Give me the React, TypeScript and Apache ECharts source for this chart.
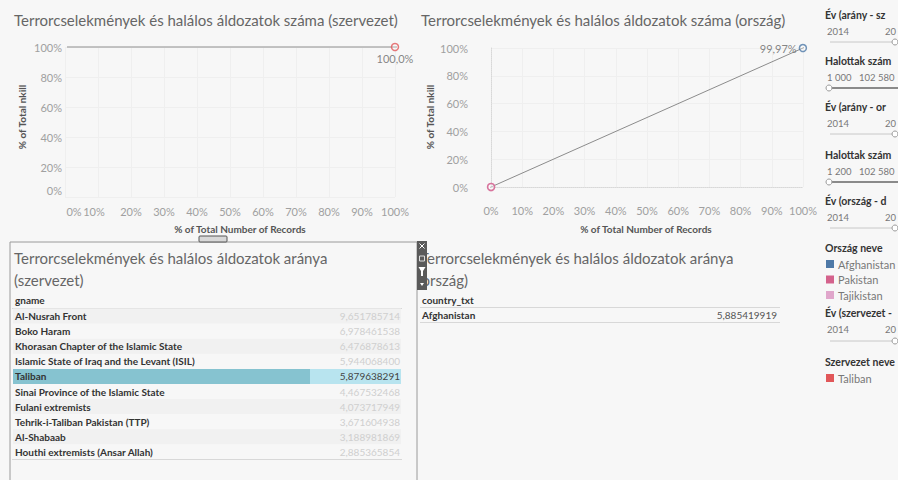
import React, { useEffect, useRef } from 'react';
import * as echarts from 'echarts';

// ---- data ----
const orgNames = ['Taliban'];
const orgRecordsShare = [1.0];
const orgKillShare = [1.0];
const orgColors = ['#e15759'];

const countryNames = ['Afghanistan', 'Pakistan', 'Tajikistan'];
const countryRecordsShare = [0.9997, 0.0003, 0.0];
const countryKillShare = [0.9997, 0.0003, 0.0];
const countryColors = ['#4e79a7', '#d4628c', '#e0a6cb'];

const pctTickStep = 0.1;
const pctTickStepY = 0.2;

const gnames = [
  'Al-Nusrah Front',
  'Boko Haram',
  'Khorasan Chapter of the Islamic State',
  'Islamic State of Iraq and the Levant (ISIL)',
  'Taliban',
  'Sinai Province of the Islamic State',
  'Fulani extremists',
  'Tehrik-i-Taliban Pakistan (TTP)',
  'Al-Shabaab',
  'Houthi extremists (Ansar Allah)',
];
const gnameRatios = [
  9.651785714, 6.978461538, 6.476878613, 5.9440684, 5.879638291,
  4.467532468, 4.073717949, 3.671604938, 3.188981869, 2.885365854,
];
const selectedOrg = 'Taliban';

const countryTxt = ['Afghanistan'];
const countryRatios = [5.885419919];

const filterTitles = [
  'Év (arány - szervezet)',
  'Halottak száma (szervezet)',
  'Év (arány - ország)',
  'Halottak száma (ország)',
  'Év (ország - diagram)',
];
const filterLow = ['2014', '1 000', '2014', '1 200', '2014'];
const filterHigh = ['2017', '102 580', '2017', '102 580', '2017'];
const countryLegendTitle = 'Ország neve';
const orgFilterTitle = 'Év (szervezet - diagram)';
const orgFilterLow = '2014';
const orgFilterHigh = '2017';
const orgLegendTitle = 'Szervezet neve';

const FONT = 'Lato, "Open Sans", sans-serif';

function fmtPct(v: number, d: number) {
  return (v * 100).toFixed(d).replace('.', ',') + '%';
}
function fmtNum(v: number) {
  return v.toFixed(9).replace('.', ',');
}
function trend(xs: number[], ys: number[], x0: number, x1: number) {
  const n = xs.length;
  const mx = xs.reduce((a, b) => a + b, 0) / n;
  const my = ys.reduce((a, b) => a + b, 0) / n;
  let sxx = 0, sxy = 0;
  for (let i = 0; i < n; i++) {
    sxx += (xs[i] - mx) * (xs[i] - mx);
    sxy += (xs[i] - mx) * (ys[i] - my);
  }
  const slope = sxx > 0 ? sxy / sxx : 0;
  return [[x0, my + slope * (x0 - mx)], [x1, my + slope * (x1 - mx)]];
}

function txt(text: string, x: number, y: number, o: any = {}) {
  return {
    type: 'text',
    x,
    y,
    rotation: o.rotation || 0,
    silent: true,
    z: o.z || 10,
    style: {
      text,
      fill: o.fill || '#333',
      fontSize: o.size || 10,
      fontFamily: FONT,
      fontWeight: o.weight || 'normal',
      textAlign: o.align || 'left',
      textVerticalAlign: 'middle',
      ...(o.width ? { width: o.width, overflow: 'truncate', ellipsis: '' } : {}),
    },
  };
}

function buildGraphics() {
  const g: any[] = [];
  // chart titles
  g.push(txt('Terrorcselekmények és halálos áldozatok száma (szervezet)', 14, 20, { size: 15, fill: '#666' }));
  g.push(txt('Terrorcselekmények és halálos áldozatok száma (ország)', 421, 20, { size: 15, fill: '#666' }));
  // axis titles
  g.push(txt('% of Total nkill', 22, 117, { rotation: Math.PI / 2, align: 'center', weight: 'bold', fill: '#555', size: 10 }));
  g.push(txt('% of Total nkill', 430, 117, { rotation: Math.PI / 2, align: 'center', weight: 'bold', fill: '#555', size: 10 }));
  g.push(txt('% of Total Number of Records', 240, 229, { align: 'center', weight: 'bold', fill: '#555', size: 10 }));
  g.push(txt('% of Total Number of Records', 646, 229, { align: 'center', weight: 'bold', fill: '#555', size: 10 }));

  // left table box
  g.push({ type: 'rect', silent: true, z: 2, shape: { x: 10, y: 242, width: 407, height: 260 }, style: { fill: 'none', stroke: '#9a9a9a', lineWidth: 1 } });
  g.push({ type: 'rect', silent: true, z: 12, shape: { x: 199, y: 236, width: 28, height: 6, r: 1 }, style: { fill: '#d8d8d8', stroke: '#555', lineWidth: 1 } });
  g.push(txt('Terrorcselekmények és halálos áldozatok aránya', 14, 258, { size: 15, fill: '#666' }));
  g.push(txt('(szervezet)', 14, 280, { size: 15, fill: '#666' }));
  g.push(txt('gname', 15, 300, { size: 10, weight: 'bold', fill: '#333' }));
  g.push({ type: 'line', silent: true, shape: { x1: 12, y1: 308.5, x2: 402, y2: 308.5 }, style: { stroke: '#d8d8d8', lineWidth: 1 } });
  const rowH = 15.1;
  gnames.forEach((name, i) => {
    const cy = 316 + i * rowH;
    const sel = name === selectedOrg;
    if (sel) {
      g.push({ type: 'rect', silent: true, z: 3, shape: { x: 13, y: cy - 7.5, width: 297, height: 15 }, style: { fill: '#86c3d0' } });
      g.push({ type: 'rect', silent: true, z: 3, shape: { x: 310, y: cy - 7.5, width: 91, height: 15 }, style: { fill: '#b8e4ef' } });
    } else if (i % 2 === 0) {
      g.push({ type: 'rect', silent: true, z: 3, shape: { x: 13, y: cy - 7.5, width: 388, height: 15 }, style: { fill: '#f1f1f1' } });
    }
    g.push(txt(name, 15, cy, { size: 10, weight: 'bold', fill: '#333' }));
    g.push(txt(fmtNum(gnameRatios[i]), 400, cy, { size: 10, fill: sel ? '#444' : '#cfcfcf', align: 'right' }));
  });
  g.push({ type: 'line', silent: true, shape: { x1: 12, y1: 459.5, x2: 402, y2: 459.5 }, style: { stroke: '#d8d8d8', lineWidth: 1 } });

  // right table
  g.push(txt('Terrorcselekmények és halálos áldozatok aránya', 420, 258, { size: 15, fill: '#666' }));
  g.push(txt('(ország)', 418, 280, { size: 15, fill: '#666' }));
  g.push(txt('country_txt', 422, 300, { size: 10, weight: 'bold', fill: '#333' }));
  g.push({ type: 'line', silent: true, shape: { x1: 420, y1: 307.5, x2: 780, y2: 307.5 }, style: { stroke: '#d8d8d8', lineWidth: 1 } });
  countryTxt.forEach((c, i) => {
    const cy = 315 + i * rowH;
    g.push(txt(c, 422, cy, { size: 10, weight: 'bold', fill: '#333' }));
    g.push(txt(fmtNum(countryRatios[i]), 777, cy, { size: 10, fill: '#555', align: 'right' }));
  });
  g.push({ type: 'line', silent: true, shape: { x1: 420, y1: 322.5 + (countryTxt.length - 1) * rowH, x2: 780, y2: 322.5 + (countryTxt.length - 1) * rowH }, style: { stroke: '#d8d8d8', lineWidth: 1 } });

  // toolbar (drawn over the right table title, as in the dashboard)
  g.push({ type: 'rect', silent: true, z: 20, shape: { x: 417, y: 241, width: 10, height: 49 }, style: { fill: '#5a5a5a' } });
  g.push({ type: 'line', silent: true, z: 21, shape: { x1: 419.5, y1: 243.5, x2: 424.5, y2: 248.5 }, style: { stroke: '#fff', lineWidth: 1 } });
  g.push({ type: 'line', silent: true, z: 21, shape: { x1: 424.5, y1: 243.5, x2: 419.5, y2: 248.5 }, style: { stroke: '#fff', lineWidth: 1 } });
  g.push({ type: 'rect', silent: true, z: 21, shape: { x: 419.5, y: 256, width: 5, height: 5 }, style: { fill: 'none', stroke: '#ddd', lineWidth: 1 } });
  g.push({ type: 'polygon', silent: true, z: 21, shape: { points: [[418.5, 267], [425.5, 267], [423, 271], [423, 276], [421, 276], [421, 271]] }, style: { fill: '#fff' } });
  g.push({ type: 'polygon', silent: true, z: 21, shape: { points: [[420, 283], [424, 283], [422, 286]] }, style: { fill: '#fff' } });

  // side panel filters
  const SX = 825;
  const W = 898 - SX;
  const slider = (y: number, knobX: number, rangeLeft: boolean) => {
    g.push({ type: 'line', silent: true, shape: { x1: 830, y1: y, x2: 898, y2: y }, style: { stroke: '#c8c8c8', lineWidth: 1 } });
    if (rangeLeft) {
      g.push({ type: 'line', silent: true, shape: { x1: knobX, y1: y, x2: 898, y2: y }, style: { stroke: '#8a8a8a', lineWidth: 2 } });
    }
    g.push({ type: 'circle', silent: true, z: 11, shape: { cx: knobX, cy: y, r: 3 }, style: { fill: '#fff', stroke: '#999', lineWidth: 1 } });
  };
  const ys = [15, 61, 107, 155, 201];
  filterTitles.forEach((t, i) => {
    const y = ys[i];
    const isDeath = t.startsWith('Halottak');
    const hx = isDeath ? 859 : 885;
    g.push(txt(t, SX, y, { size: 10.5, weight: 'bold', fill: '#333', width: W }));
    g.push(txt(filterLow[i], 827, y + 16, { size: 9.5, fill: '#777' }));
    g.push(txt(filterHigh[i], hx, y + 16, { size: 9.5, fill: '#777', width: isDeath ? 898 - hx : 16 }));
    slider(y + 27, isDeath ? 829 : 895, isDeath);
  });
  g.push(txt(countryLegendTitle, SX, 248, { size: 10.5, weight: 'bold', fill: '#333', width: W }));
  countryNames.forEach((c, i) => {
    const y = 264 + i * 15.5;
    g.push({ type: 'rect', silent: true, shape: { x: 826, y: y - 4, width: 8, height: 8 }, style: { fill: countryColors[i] } });
    g.push(txt(c, 838, y, { size: 11, fill: '#777', width: 898 - 838 }));
  });
  g.push(txt(orgFilterTitle, SX, 313, { size: 10.5, weight: 'bold', fill: '#333', width: W }));
  g.push(txt(orgFilterLow, 827, 329, { size: 9.5, fill: '#777' }));
  g.push(txt(orgFilterHigh, 885, 329, { size: 9.5, fill: '#777', width: 16 }));
  slider(341, 895, false);
  g.push(txt(orgLegendTitle, SX, 362, { size: 10.5, weight: 'bold', fill: '#333', width: W }));
  orgNames.forEach((o, i) => {
    const y = 378 + i * 15.5;
    g.push({ type: 'rect', silent: true, shape: { x: 826, y: y - 4, width: 8, height: 8 }, style: { fill: orgColors[i] } });
    g.push(txt(o, 838, y, { size: 11, fill: '#777', width: 898 - 838 }));
  });
  return g;
}

function shiftLabel(text: string, key: string) {
  return '{' + key + '|' + text + '}';
}

export default function App() {
  const ref = useRef<HTMLDivElement>(null);
  useEffect(() => {
    document.body.style.margin = '0';
    const chart = echarts.init(ref.current!, null, { renderer: 'svg' });
    const labelBase = { color: '#a0a0a0', fontSize: 11, fontFamily: FONT };
    const pctFmtX = (v: number) => Math.round(v * 100) + '%';
    const leftXFmt = (v: number) => {
      const s = pctFmtX(v);
      if (Math.abs(v) < 1e-9) return shiftLabel(s, 'r');
      if (Math.abs(v - 0.1) < 1e-9) return shiftLabel(s, 'l');
      return shiftLabel(s, 'n');
    };
    const leftYFmt = (v: number) => {
      const s = pctFmtX(v);
      if (Math.abs(v) < 1e-9) return shiftLabel(s, 'u');
      return shiftLabel(s, 'n');
    };
    const rich = {
      n: { ...labelBase },
      r: { ...labelBase, padding: [0, 0, 0, 18] },
      l: { ...labelBase, padding: [0, 8, 0, 0] },
      u: { ...labelBase, padding: [0, 0, 14, 0] },
    };
    const splitLine = { show: true, lineStyle: { color: '#efefef', width: 1 } };

    const orgData = orgNames.map((n, i) => ({ name: n, value: [orgRecordsShare[i], orgKillShare[i]], itemStyle: { borderColor: orgColors[i] } }));
    const countryData = countryNames.map((n, i) => ({ name: n, value: [countryRecordsShare[i], countryKillShare[i]], itemStyle: { borderColor: countryColors[i], color: 'rgba(255,255,255,0.3)' } })).reverse();

    const option: any = {
      animation: false,
      backgroundColor: '#f7f7f7',
      textStyle: { fontFamily: FONT },
      grid: [
        { left: 65, top: 47, width: 330, height: 150 },
        { left: 491, top: 48, width: 312, height: 139 },
      ],
      xAxis: [
        {
          gridIndex: 0, type: 'value', min: 0, max: 1, interval: pctTickStep,
          axisLine: { show: false }, axisTick: { show: false }, splitLine,
          axisLabel: { formatter: leftXFmt, rich, margin: 9, showMinLabel: true, showMaxLabel: true, hideOverlap: false },
        },
        {
          gridIndex: 1, type: 'value', min: 0, max: 1, interval: pctTickStep,
          axisLine: { show: true, lineStyle: { color: '#d8d8d8', type: 'dotted' } }, axisTick: { show: false }, splitLine,
          axisLabel: { formatter: (v: number) => pctFmtX(v), ...labelBase, margin: 18 },
        },
      ],
      yAxis: [
        {
          gridIndex: 0, type: 'value', min: 0, max: 1, interval: pctTickStepY,
          axisLine: { show: false }, axisTick: { show: false }, splitLine,
          axisLabel: { formatter: leftYFmt, rich, margin: 3, showMinLabel: true },
        },
        {
          gridIndex: 1, type: 'value', min: 0, max: 1, interval: pctTickStepY,
          axisLine: { show: true, lineStyle: { color: '#d8d8d8', type: 'dotted' } }, axisTick: { show: false }, splitLine,
          axisLabel: { formatter: (v: number) => pctFmtX(v), ...labelBase, margin: 23 },
        },
      ],
      series: [
        {
          type: 'line', xAxisIndex: 0, yAxisIndex: 0, clip: false, silent: true, symbol: 'none',
          data: trend(orgRecordsShare, orgKillShare, 0.006, 1.06),
          lineStyle: { color: '#b0b0b0', width: 1.5 }, z: 2,
        },
        {
          type: 'scatter', xAxisIndex: 0, yAxisIndex: 0, clip: false, symbol: 'circle', symbolSize: 7,
          data: orgData,
          itemStyle: { color: 'rgba(255,255,255,0.3)', borderWidth: 1.5 },
          label: {
            show: true, position: 'bottom', distance: 2, color: '#666', fontSize: 11, fontFamily: FONT,
            formatter: (p: any) => fmtPct(p.value[1], 1),
          },
          z: 5,
        },
        {
          type: 'line', xAxisIndex: 1, yAxisIndex: 1, clip: false, silent: true, symbol: 'none',
          data: trend(countryRecordsShare, countryKillShare, -0.055, 1.055),
          lineStyle: { color: '#8c8c8c', width: 1 }, z: 2,
        },
        {
          type: 'scatter', xAxisIndex: 1, yAxisIndex: 1, clip: false, symbol: 'circle', symbolSize: 7,
          data: countryData,
          itemStyle: { borderWidth: 1.5 },
          label: {
            show: true, position: 'left', distance: 2, color: '#666', fontSize: 11, fontFamily: FONT,
            formatter: (p: any) => (p.value[1] > 0.5 ? fmtPct(p.value[1], 2) : ''),
          },
          z: 5,
        },
      ],
      graphic: buildGraphics(),
    };
    chart.setOption(option);
    return () => chart.dispose();
  }, []);
  return <div ref={ref} style={{ position: 'absolute', left: 0, top: 0, width: 898, height: 480 }} />;
}
